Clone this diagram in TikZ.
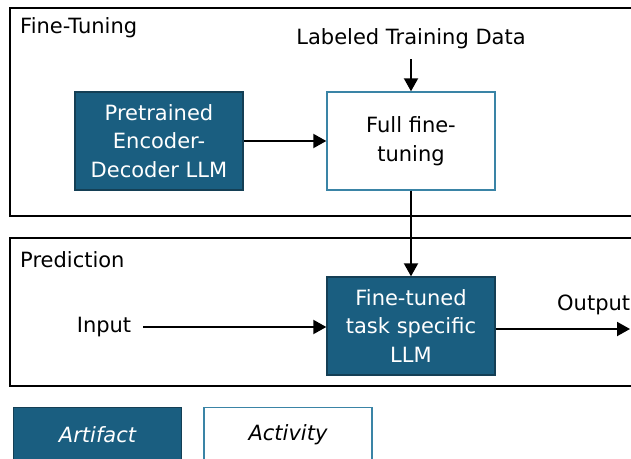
\documentclass[tikz,border=0pt]{standalone}
\usepackage{fontspec}
\setmainfont{DejaVu Sans}
\usetikzlibrary{arrows.meta}
\definecolor{artifactblue}{HTML}{1A5E80}
\definecolor{artifactedge}{HTML}{143F55}
\definecolor{activityedge}{HTML}{3A84A6}
\begin{document}
\begin{tikzpicture}[x=1pt,y=-1pt,
    font=\fontsize{21}{28.5}\selectfont,
    artifact/.style={draw=artifactedge,fill=artifactblue,text=white,line width=1.4pt,
      minimum width=168pt,minimum height=98pt,align=center},
    activity/.style={draw=activityedge,fill=white,line width=1.4pt,
      minimum width=168pt,minimum height=98pt,align=center},
    flow/.style={-{Triangle[length=13pt,width=14pt]},line width=2pt},
    frame/.style={draw,line width=1.5pt}]
    % Define the bounding box of the picture
    \useasboundingbox (0,0) rectangle (631,458);
    \clip (0,0) rectangle (631,458);

    % Draw the frames for the two stages
    \draw[frame] (10,8) rectangle (660,216);
    \draw[frame] (10,238) rectangle (660,386);
    \node[anchor=west,inner sep=0pt] (tuninglabel) at (20,28) {Fine-Tuning};
    \node[anchor=west,inner sep=0pt] (predictlabel) at (20,260) {Prediction};

    % Fine-tuning stage
    \node[artifact] (pretrained) at (159,141) {Pretrained\\Encoder-\\Decoder LLM};
    \node[activity] (full) at (411,141) {Full fine-\\tuning};
    \node[inner ysep=10pt] (data) at (411,39) {Labeled Training Data};

    % Prediction stage
    \node[artifact] (finetuned) at (411,326) {Fine-tuned\\task specific\\LLM};
    \node[inner xsep=12pt] (input) at (104,327) {Input};
    \node[anchor=west,inner sep=0pt] (output) at (557,305) {Output};
    \coordinate (outend) at (630,329);

    % Connect the boxes
    \draw[flow] (data) -- (full);
    \draw[flow] (pretrained) -- (full);
    \draw[flow] (full) -- (finetuned);
    \draw[flow] (input) -- (input -| finetuned.west);
    \draw[flow] (finetuned.east |- outend) -- (outend);

    % Legend
    \node[artifact,anchor=north,minimum height=54pt,font=\fontsize{21}{24}\selectfont\itshape] (artifactkey) at (97.5,407) {Artifact};
    \node[activity,anchor=north,minimum height=54pt,font=\fontsize{21}{24}\selectfont\itshape] (activitykey) at (288,407) {Activity};
\end{tikzpicture}
\end{document}
